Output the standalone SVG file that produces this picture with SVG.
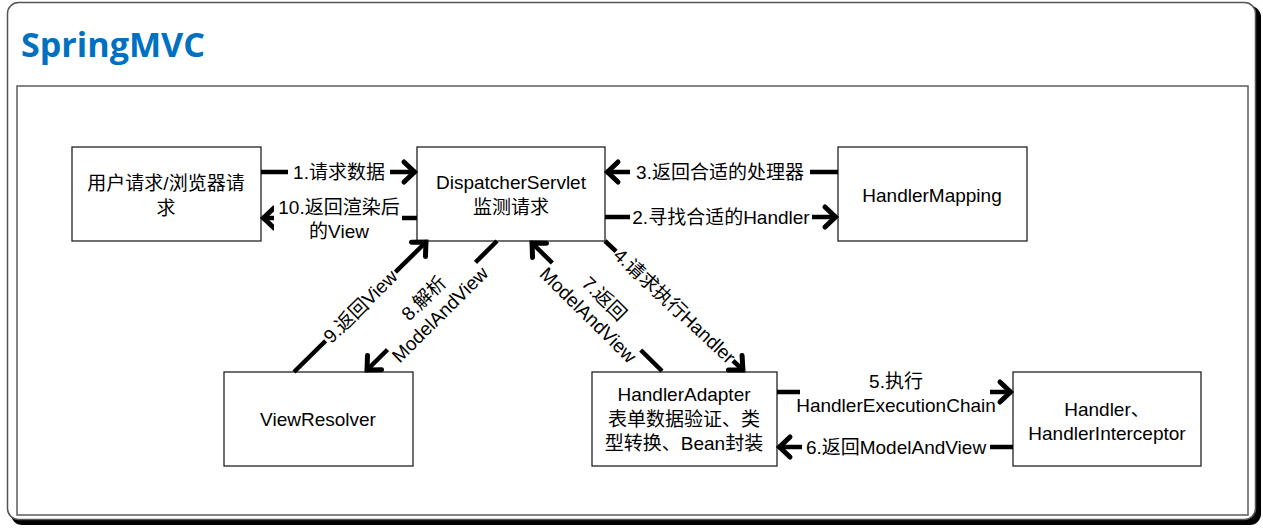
<svg xmlns="http://www.w3.org/2000/svg" width="1263" height="529" viewBox="0 0 1263 529">
<style>
.t{font-family:"Liberation Sans","Noto Sans CJK SC",sans-serif;font-size:19px;fill:#000;text-anchor:middle;dominant-baseline:central}
.box{fill:#fff;stroke:#222;stroke-width:1.3}
.ln{stroke:#000;stroke-width:4.5;fill:none;marker-end:url(#ah)}
.bg{fill:#fff}
</style>
<defs>
<marker id="ah" viewBox="-18 -14 22 28" markerWidth="22" markerHeight="28" markerUnits="userSpaceOnUse" refX="0" refY="0" orient="auto">
<path d="M-12,-10 L-1.5,0 L-12,10" fill="none" stroke="#000" stroke-width="5" stroke-linecap="round" stroke-linejoin="miter"/>
</marker>
</defs>
<rect width="1263" height="529" fill="#fff"/>
<g id="frame">
<rect x="11" y="6" width="1250" height="519" rx="11" fill="#000"/>
<rect x="7.5" y="2.5" width="1248" height="517" rx="11" fill="#fff" stroke="#555" stroke-width="1.5"/>
<text x="21" y="57" font-family="'Open Sans','Liberation Sans',sans-serif" font-weight="bold" font-size="34" fill="#0070C0" textLength="184" lengthAdjust="spacingAndGlyphs">SpringMVC</text>
<rect x="17" y="86" width="1231" height="429" fill="#fff" stroke="#666" stroke-width="1.6"/>
</g>
<g id="user">
<rect class="box" x="72" y="147" width="189" height="94"/>
<text class="t" x="166" y="183">用户请求/浏览器请</text>
<text class="t" x="166" y="208">求</text>
</g>
<g id="dispatcher">
<rect class="box" x="417" y="147" width="188" height="94"/>
<text class="t" x="511" y="182">DispatcherServlet</text>
<text class="t" x="511" y="207">监测请求</text>
</g>
<g id="handlerMapping">
<rect class="box" x="838" y="147" width="189" height="94"/>
<text class="t" x="932" y="195">HandlerMapping</text>
</g>
<g id="viewResolver">
<rect class="box" x="224" y="372" width="189" height="94"/>
<text class="t" x="318" y="419">ViewResolver</text>
</g>
<g id="handlerAdapter">
<rect class="box" x="592" y="372" width="185" height="94"/>
<text class="t" x="684" y="394">HandlerAdapter</text>
<text class="t" x="684" y="419">表单数据验证、类</text>
<text class="t" x="684" y="443">型转换、Bean封装</text>
</g>
<g id="handler">
<rect class="box" x="1013" y="372" width="188" height="94"/>
<text class="t" x="1107" y="409">Handler、</text>
<text class="t" x="1107" y="433">HandlerInterceptor</text>
</g>
<g id="connectors">
<line class="ln" x1="261" y1="172" x2="416" y2="172"/>
<line class="ln" x1="417" y1="218" x2="262" y2="218"/>
<line class="ln" x1="838" y1="172" x2="606" y2="172"/>
<line class="ln" x1="605" y1="217" x2="837" y2="217"/>
<line class="ln" x1="605" y1="241" x2="744" y2="371"/>
<line class="ln" x1="777" y1="392" x2="1012" y2="392"/>
<line class="ln" x1="1013" y1="447" x2="778" y2="447"/>
<line class="ln" x1="662" y1="371" x2="531" y2="242"/>
<line class="ln" x1="497" y1="241" x2="366" y2="371"/>
<line class="ln" x1="294" y1="372" x2="427" y2="241"/>
<rect class="bg" x="288" y="160" width="102" height="24"/>
<text class="t" x="339" y="172">1.请求数据</text>
<rect class="bg" x="274" y="196" width="128" height="46"/>
<text class="t" x="339" y="207">10.返回渲染后</text>
<text class="t" x="339" y="231">的View</text>
<rect class="bg" x="630" y="160" width="180" height="24"/>
<text class="t" x="720" y="172">3.返回合适的处理器</text>
<rect class="bg" x="630" y="205" width="182" height="24"/>
<text class="t" x="721" y="217">2.寻找合适的Handler</text>
<rect class="bg" x="800" y="368" width="190" height="50"/>
<text class="t" x="896" y="381">5.执行</text>
<text class="t" x="896" y="405">HandlerExecutionChain</text>
<rect class="bg" x="802" y="435" width="188" height="24"/>
<text class="t" x="896" y="447">6.返回ModelAndView</text>
<g transform="translate(360.5,306.5) rotate(-44.6)">
<rect class="bg" x="-49" y="-12" width="98" height="24"/>
<text class="t" x="0" y="0">9.返回View</text>
</g>
<g transform="translate(431.5,306) rotate(-44.8)">
<rect class="bg" x="-62" y="-23" width="124" height="46"/>
<text class="t" x="0" y="-11">8.解析</text>
<text class="t" x="0" y="12">ModelAndView</text>
</g>
<g transform="translate(596.5,306.5) rotate(44.6)">
<rect class="bg" x="-62" y="-23" width="124" height="46"/>
<text class="t" x="0" y="-11">7.返回</text>
<text class="t" x="0" y="12">ModelAndView</text>
</g>
<g transform="translate(674.5,306) rotate(43.1)">
<rect class="bg" x="-80" y="-12" width="160" height="24"/>
<text class="t" x="0" y="0">4.请求执行Handler</text>
</g>
</g>
</svg>
